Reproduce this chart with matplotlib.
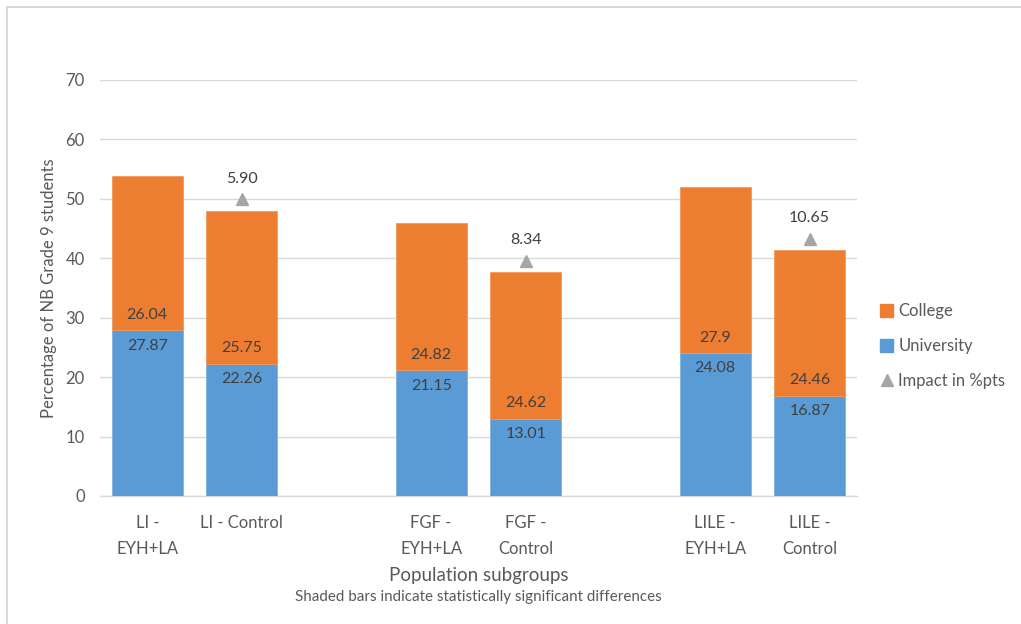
import numpy as np
import matplotlib.pyplot as plt
from matplotlib.lines import Line2D
from matplotlib.patches import Patch, Rectangle

plt.rcParams['font.family'] = ['Lato', 'DejaVu Sans']

# Data
categories = ["LI -\nEYH+LA", "LI - Control",
              "FGF -\nEYH+LA", "FGF -\nControl",
              "LILE -\nEYH+LA", "LILE -\nControl"]
university = [27.87, 22.26, 21.15, 13.01, 24.08, 16.87]
college = [26.04, 25.75, 24.82, 24.62, 27.9, 24.46]
impact = [5.90, 8.34, 10.65]

UNI_C = '#5B9BD5'
COL_C = '#ED7D31'
TRI_C = '#A5A5A5'
TXT = '#595959'
LBL = '#404040'
GRID = '#D9D9D9'

fig = plt.figure(figsize=(10.21, 6.24), dpi=100)
W, H = 1021, 624
ax = fig.add_axes([100 / W, 1 - 496 / H, 757 / W, 416 / H])

# two bars per subgroup with an empty slot between subgroups
x = np.array([g * 3 + k for g in range(3) for k in range(2)], dtype=float)
uni = np.array(university)
col = np.array(college)
width = 0.75

ax.bar(x, uni, width, color=UNI_C, edgecolor='#7FB2E0', linewidth=0.6,
       zorder=3, label='University')
ax.bar(x, col, width, bottom=uni, color=COL_C, edgecolor='#F29A5E',
       linewidth=0.6, zorder=3, label='College')

# value labels: university at inside end, college at inside base
for xi, u, c in zip(x, uni, col):
    ax.annotate(f"{u}", (xi, u), xytext=(0, -6), textcoords='offset points',
                ha='center', va='top', fontsize=11.5, color=LBL, zorder=5)
    ax.annotate(f"{c}", (xi, u), xytext=(0, 6), textcoords='offset points',
                ha='center', va='bottom', fontsize=11.5, color=LBL, zorder=5)

# impact markers above each control bar
ctrl = x[1::2]
ctrl_tot = (uni + col)[1::2]
tri_y = ctrl_tot + 1.9
ax.plot(ctrl, tri_y, linestyle='none', marker='^', markersize=8,
        color=TRI_C, zorder=4)
for xi, yi, v in zip(ctrl, tri_y, impact):
    ax.annotate(f"{v:.2f}", (xi, yi), xytext=(0, 10),
                textcoords='offset points', ha='center', va='bottom',
                fontsize=11.5, color=LBL)

ax.set_xlim(-0.5, 7.5)
ax.set_ylim(0, 70)
ax.set_yticks(np.arange(0, 71, 10))
ax.set_xticks(x)
ax.set_xticklabels(categories)
ax.yaxis.grid(True, color=GRID, linewidth=1)
ax.set_axisbelow(True)
for s in ['top', 'right', 'left']:
    ax.spines[s].set_visible(False)
ax.spines['bottom'].set_color(GRID)
ax.spines['bottom'].set_linewidth(1)
ax.tick_params(axis='both', length=0, colors=TXT, labelsize=12)
ax.tick_params(axis='x', pad=14)
ax.tick_params(axis='y', pad=11)
for t in ax.get_xticklabels():
    t.set_linespacing(1.7)

ax.set_ylabel('Percentage of NB Grade 9 students', fontsize=12,
              color=TXT, labelpad=6)

fig.text(478.5 / W, 1 - 576 / H, 'Population subgroups', ha='center',
         va='center', fontsize=13.5, color=TXT)
fig.text(478.5 / W, 1 - 597 / H,
         'Shaded bars indicate statistically significant differences',
         ha='center', va='center', fontsize=10.9, color=TXT)

handles = [Patch(facecolor=COL_C, edgecolor=COL_C, label='College'),
           Patch(facecolor=UNI_C, edgecolor=UNI_C, label='University'),
           Line2D([], [], linestyle='none', marker='^', markersize=8,
                  color=TRI_C, label='Impact in %pts')]
leg = fig.legend(handles=handles, loc='upper left',
                 bbox_to_anchor=(880 / W, 1 - 303 / H), frameon=False,
                 fontsize=12, labelcolor=TXT, handlelength=0.8,
                 handleheight=0.8, handletextpad=0.3, labelspacing=1.15,
                 borderaxespad=0, borderpad=0)

# outer chart frame
fig.patches.append(Rectangle((7 / W, -0.1), 1.2, 1 - 7 / H + 0.1,
                             transform=fig.transFigure, fill=False,
                             edgecolor='#D9D9D9', linewidth=1.5))

fig.savefig('out.png', dpi=100, facecolor='white')
